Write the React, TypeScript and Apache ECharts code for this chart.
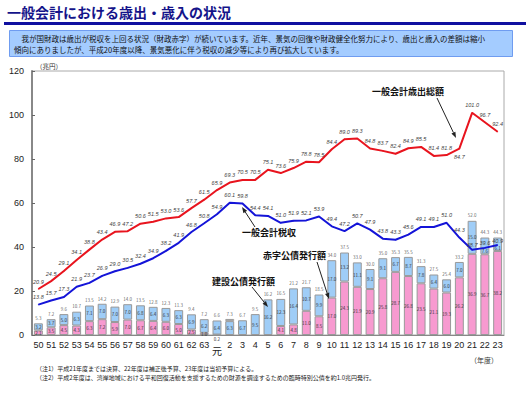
import React, { useEffect, useRef } from 'react';
import * as echarts from 'echarts';

const years = ['50','51','52','53','54','55','56','57','58','59','60','61','62','63','元','2','3','4','5','6','7','8','9','10','11','12','13','14','15','16','17','18','19','20','21','22','23'];
const expenditure = [20.9,24.5,29.1,34.1,38.8,43.4,46.9,47.2,50.6,51.5,53.0,53.6,57.7,61.5,65.9,69.3,70.5,70.5,75.1,73.6,75.9,78.8,78.5,84.4,89.0,89.3,84.8,83.7,82.4,84.9,85.5,81.4,81.8,84.7,101.0,96.7,92.4];
const taxRevenue = [13.8,15.7,17.3,21.9,23.7,26.9,29.0,30.5,32.4,34.9,38.2,41.9,46.8,50.8,54.9,60.1,59.8,54.4,54.1,51.0,51.9,52.1,53.9,49.4,47.2,50.7,47.9,43.8,43.3,45.6,49.1,49.1,51.0,44.3,38.7,39.6,40.9];
const deficitBonds = [2.1,3.5,4.5,4.3,6.3,7.2,5.9,7.0,6.7,6.4,6.0,5.0,2.5,1.0,0.2,null,null,null,null,4.1,4.8,11.0,8.5,17.0,24.3,21.9,20.9,25.8,28.7,26.8,23.5,21.1,19.3,26.2,36.9,36.7,38.2];
const constructionBonds = [3.2,3.7,5.0,6.3,7.1,7.0,7.0,7.0,6.8,6.4,6.3,6.3,6.9,6.2,6.4,6.3,6.7,9.5,16.2,12.3,16.4,10.7,9.9,17.0,13.2,11.1,9.1,9.1,6.7,8.7,7.8,6.4,6.0,7.0,15.0,7.6,6.1];
const specialBonds = [null,null,null,null,null,null,null,null,null,null,null,null,null,null,null,1.0,null,null,null,null,null,null,null,null,null,null,null,null,null,null,null,null,null,null,null,null,null];
const bondTotals = [5.3,7.2,9.6,10.7,13.5,14.2,12.9,14.0,13.5,12.8,12.3,11.3,9.4,7.2,6.6,7.3,6.7,9.5,16.2,16.5,21.2,21.7,18.5,34.0,37.5,33.0,30.0,35.0,35.3,35.5,31.3,27.5,25.4,33.2,52.0,44.3,44.3];
const yTicks = [0, 20, 40, 60, 80, 100, 120];

const FONT = '"Noto Sans CJK JP", "Noto Sans", sans-serif';
const NUMFONT = 'Arial, "Liberation Sans", sans-serif';

function arrow(x1: number, y1: number, x2: number, y2: number) {
  const ang = Math.atan2(y2 - y1, x2 - x1);
  const L = 6, W = 2.2;
  const bx = x2 - L * Math.cos(ang), by = y2 - L * Math.sin(ang);
  const px = -Math.sin(ang) * W, py = Math.cos(ang) * W;
  return [
    { type: 'line', shape: { x1, y1, x2: bx, y2: by }, style: { stroke: '#222', lineWidth: 1 }, z: 100 },
    { type: 'polygon', shape: { points: [[x2, y2], [bx + px, by + py], [bx - px, by - py]] }, style: { fill: '#222' }, z: 100 },
  ];
}

export default function App() {
  const ref = useRef<HTMLDivElement>(null);
  useEffect(() => {
    const chart = echarts.init(ref.current!, undefined, { renderer: 'svg' });
    const fmt = (p: any) => (p.value == null ? '' : Number(p.value).toFixed(1));
    const lineLabel = { show: true, position: 'top', distance: 4, fontSize: 5.5, fontStyle: 'italic', color: '#444', fontFamily: NUMFONT, formatter: fmt };
    const option: any = {
      animation: false,
      textStyle: { fontFamily: FONT },
      grid: { left: 32, right: 26, top: 71, bottom: 61, show: true, borderColor: '#aaa', borderWidth: 1 },
      xAxis: {
        type: 'category',
        data: years,
        axisLine: { lineStyle: { color: '#888', width: 1 } },
        axisTick: { show: false },
        axisLabel: {
          interval: 0, fontSize: 9, color: '#222', margin: 5, fontFamily: NUMFONT,
          formatter: (v: string) => (v === '元' ? '{g|元}' : v),
          rich: { g: { fontSize: 10, padding: [6, 0, 0, 0], color: '#222', fontFamily: FONT } },
        },
      },
      yAxis: {
        type: 'value',
        min: 0, max: 120, interval: 20,
        splitLine: { show: false },
        axisLine: { show: true, lineStyle: { color: '#888', width: 2 } },
        axisTick: { show: true, inside: true, length: 3, lineStyle: { color: '#666' } },
        axisLabel: { fontSize: 9, color: '#222', margin: 8, fontFamily: NUMFONT, formatter: (v: number) => (yTicks.includes(v) ? String(v) : '') },
      },
      series: [
        {
          name: '赤字公債', type: 'bar', stack: 'bonds', barWidth: '70%',
          data: deficitBonds.map((v, i) => (i === 14 ? { value: v, label: { position: 'bottom', distance: 1 } } : v)),
          itemStyle: { color: '#f79ad0', borderColor: '#999', borderWidth: 1 },
          label: { show: true, position: 'inside', fontSize: 4.5, color: '#333', formatter: fmt },
          z: 2,
        },
        {
          name: '建設公債', type: 'bar', stack: 'bonds', barWidth: '70%',
          data: constructionBonds.map((v, i) => (i >= 35 ? { value: v, label: { position: 'insideBottom', distance: 1 } } : v)),
          itemStyle: { color: '#9fcdf7', borderColor: '#999', borderWidth: 1 },
          label: { show: true, position: 'inside', fontSize: 4.5, color: '#333', formatter: fmt },
          z: 2,
        },
        {
          name: '臨時特別公債', type: 'bar', stack: 'bonds', barWidth: '70%',
          data: specialBonds,
          itemStyle: { color: '#ffffff', borderColor: '#999', borderWidth: 1 },
          z: 2,
        },
        {
          name: '公債発行額', type: 'scatter', data: bondTotals, symbolSize: 0,
          label: { show: true, position: 'top', distance: 3, fontSize: 4.5, color: '#333', formatter: fmt },
          z: 3,
        },
        {
          name: '一般会計歳出総額', type: 'line',
          data: expenditure.map((v, i) => (i === 33 ? { value: v, label: { position: 'bottom', distance: 5 } } : v)),
          symbol: 'circle', symbolSize: 1, showSymbol: true,
          lineStyle: { color: '#e8141e', width: 2 }, itemStyle: { color: '#e8141e' },
          label: lineLabel,
          labelLayout: { hideOverlap: false },
          z: 5,
        },
        {
          name: '一般会計税収', type: 'line',
          data: taxRevenue.map((v, i) => (i >= 34 ? { value: v, label: { distance: 1 } } : v)),
          symbol: 'circle', symbolSize: 1, showSymbol: true,
          lineStyle: { color: '#1414d8', width: 2 }, itemStyle: { color: '#1414d8' },
          label: lineLabel,
          labelLayout: { hideOverlap: false },
          z: 5,
        },
      ],
      graphic: [
        { type: 'text', left: 7, top: 5, style: { text: '一般会計における歳出・歳入の状況', fontSize: 14, fontWeight: 'bold', fill: '#14148a', fontFamily: FONT } },
        { type: 'rect', shape: { x: 4, y: 22, width: 522, height: 3 }, style: { fill: '#1010a0' } },
        { type: 'rect', shape: { x: 9.5, y: 30.5, width: 503, height: 26 }, style: { fill: '#a4ccff', stroke: '#6f9cf0', lineWidth: 1 } },
        { type: 'text', left: 14, top: 33, style: { text: '　我が国財政は歳出が税収を上回る状況（財政赤字）が続いています。近年、景気の回復や財政健全化努力により、歳出と歳入の差額は縮小\n傾向にありましたが、平成20年度以降、景気悪化に伴う税収の減少等により再び拡大しています。', fontSize: 7.5, lineHeight: 11, fill: '#111', fontFamily: FONT } },
        { type: 'text', left: 36, top: 63, style: { text: '（兆円）', fontSize: 6.5, fill: '#333', fontFamily: FONT } },
        { type: 'text', left: 372, top: 87, style: { text: '一般会計歳出総額', fontSize: 9, fontWeight: 'bold', fill: '#111', fontFamily: FONT }, z: 100 },
        ...arrow(437, 98, 456, 138),
        { type: 'text', left: 242, top: 228, style: { text: '一般会計税収', fontSize: 9, fontWeight: 'bold', fill: '#111', fontFamily: FONT }, z: 100 },
        ...arrow(255, 227, 242, 207),
        { type: 'text', left: 263, top: 251, style: { text: '赤字公債発行額', fontSize: 9, fontWeight: 'bold', fill: '#111', fontFamily: FONT }, z: 100 },
        ...arrow(317, 262, 329, 299),
        { type: 'text', left: 212, top: 277, style: { text: '建設公債発行額', fontSize: 9, fontWeight: 'bold', fill: '#111', fontFamily: FONT }, z: 100 },
        ...arrow(252, 287, 268, 307),
        { type: 'text', left: 470, top: 356, style: { text: '（年度）', fontSize: 7, fill: '#333', fontFamily: FONT } },
        { type: 'text', left: 36, top: 364, style: { text: '（注1）平成21年度までは決算、22年度は補正後予算、23年度は当初予算による。\n（注2）平成2年度は、湾岸地域における平和回復活動を支援するための財源を調達するための臨時特別公債を約1.0兆円発行。', fontSize: 6, lineHeight: 9, fill: '#222', fontFamily: FONT } },
      ],
    };
    chart.setOption(option);
    return () => chart.dispose();
  }, []);
  return <div ref={ref} style={{ position: 'fixed', left: 0, top: 0, width: 530, height: 396, background: '#fff' }} />;
}
